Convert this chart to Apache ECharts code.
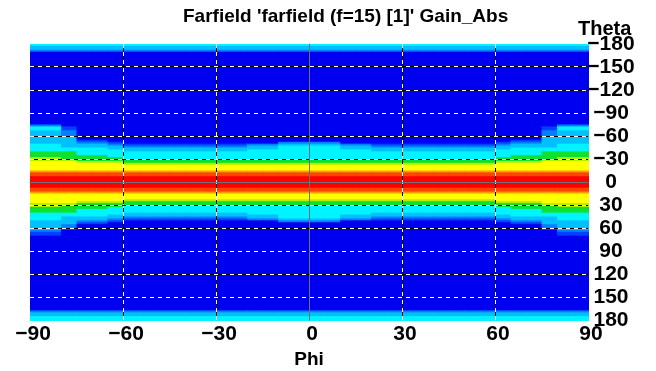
<!DOCTYPE html>
<html>
<head>
<meta charset="utf-8">
<script src="https://cdn.jsdelivr.net/npm/echarts@6/dist/echarts.min.js"></script>
<style>
html, body { margin: 0; padding: 0; background: #fff; }
#chart { width: 656px; height: 371px; }
</style>
</head>
<body>
<div id="chart"></div>
<script>
// phi cells (lower edge, deg)
var phiStart = [-90, -85, -80, -75, -70, -65, -60, -55, -50, -45, -40, -35, -30, -25, -20, -15, -10, -5,
	0, 5, 10, 15, 20, 25, 30, 35, 40, 45, 50, 55, 60, 65, 70, 75, 80, 85]
var phiStep = 5
var thetaStep = 2.5

// gain level per cell, rows from theta -180 downward
// [how many rows, level per phi cell]  (a = 10)
var thetaRows = [
	[1, "444444 44444444 44 4444 44 44444444 444444"],
	[2, "333333 33333333 33 3333 33 33333333 333333"],
	[1, "222222 22222222 22 2222 22 22222222 222222"],
	[38, "000000 00000000 00 0000 00 00000000 000000"],
	[1, "220000 00000000 00 0000 00 00000000 000022"],
	[2, "441000 00000000 00 0000 00 00000000 000144"],
	[3, "332000 00000000 00 0000 00 00000000 000233"],
	[2, "333000 00000000 00 0000 00 00000000 000333"],
	[1, "333110 00000000 00 0000 00 00000000 011333"],
	[1, "333221 00000000 00 2222 00 00000000 122333"],
	[1, "443332 11111111 22 3333 22 11111111 233344"],
	[1, "443333 22222222 33 4444 33 22222222 333344"],
	[1, "444443 33333333 33 4444 33 33333333 344444"],
	[1, "444444 33333333 44 4444 44 33333333 444444"],
	[2, "555444 44444444 44 4444 44 44444444 444555"],
	[1, "555554 44444444 44 4444 44 44444444 455555"],
	[1, "665555 44444444 44 4444 44 44444444 555566"],
	[1, "666555 55555555 55 5555 55 55555555 555666"],
	[1, "777666 55555555 55 5555 55 55555555 666777"],
	[1, "777777 66666666 66 6666 66 66666666 777777"],
	[3, "777777 77777777 77 7777 77 77777777 777777"],
	[1, "888888 88888888 88 8888 88 88888888 888888"],
	[2, "999999 99999999 99 9999 99 99999999 999999"],
	[6, "aaaaaa aaaaaaaa aa aaaa aa aaaaaaaa aaaaaa"],
	[2, "999999 99999999 99 9999 99 99999999 999999"],
	[1, "888888 88888888 88 8888 88 88888888 888888"],
	[3, "777777 77777777 77 7777 77 77777777 777777"],
	[1, "777777 66666666 66 6666 66 66666666 777777"],
	[1, "777666 55555555 55 5555 55 55555555 666777"],
	[1, "666555 55555555 55 5555 55 55555555 555666"],
	[1, "665555 44444444 44 4444 44 44444444 555566"],
	[1, "555554 44444444 44 4444 44 44444444 455555"],
	[2, "555444 44444444 44 4444 44 44444444 444555"],
	[1, "444444 33333333 44 4444 44 33333333 444444"],
	[1, "444443 33333333 33 4444 33 33333333 344444"],
	[1, "443333 22222222 33 4444 33 22222222 333344"],
	[1, "443332 11111111 22 3333 22 11111111 233344"],
	[1, "333221 00000000 00 2222 00 00000000 122333"],
	[1, "333110 00000000 00 0000 00 00000000 011333"],
	[2, "332000 00000000 00 0000 00 00000000 000233"],
	[1, "331000 00000000 00 0000 00 00000000 000133"],
	[1, "220000 00000000 00 0000 00 00000000 000022"],
	[2, "110000 00000000 00 0000 00 00000000 000011"],
	[39, "000000 00000000 00 0000 00 00000000 000000"],
	[1, "222222 22222222 22 2222 22 22222222 222222"],
	[2, "333333 33333333 33 3333 33 33333333 333333"],
	[2, "444444 44444444 44 4444 44 44444444 444444"]
]

var levelColors = ["#0000f0", "#0040ff", "#0080ff", "#00c0ff", "#00f4ff", "#10e030",
	"#b0f000", "#ffff00", "#ff9c00", "#ff4400", "#ff0000"]

var phiTicks = [-90, -60, -30, 0, 30, 60, 90]
var thetaTicks = [-180, -150, -120, -90, -60, -30, 0, 30, 60, 90, 120, 150, 180]

var FONT = '"Liberation Sans", Arial, sans-serif'
var PHI_MIN = phiTicks[0], PHI_MAX = phiTicks[phiTicks.length - 1]
var TH_MIN = thetaTicks[0], TH_MAX = thetaTicks[thetaTicks.length - 1]

// cells
var cells = []
var theta = TH_MIN
for (var r = 0; r < thetaRows.length; r++) {
	var row = thetaRows[r][1].replace(/ /g, '')
	for (var k = 0; k < thetaRows[r][0]; k++) {
		for (var j = 0; j < phiStart.length; j++) {
			cells.push([phiStart[j], theta, phiStart[j] + phiStep, theta + thetaStep, parseInt(row[j], 16)])
		}
		theta += thetaStep
	}
}

// inner grid lines (black/white dashed)
var vLines = phiTicks.slice(1, -1).map(function (v) { return [v, 0] })
var hLines = thetaTicks.slice(1, -1).map(function (v) { return [0, v] })

function minusSign(v) {
	return String(v).replace('-', '\u2212')
}

function renderCell(params, api) {
	var p0 = api.coord([api.value(0), api.value(1)])
	var p1 = api.coord([api.value(2), api.value(3)])
	return {
		type: 'rect',
		shape: {
			x: Math.min(p0[0], p1[0]),
			y: Math.min(p0[1], p1[1]),
			width: Math.abs(p1[0] - p0[0]) + 1,
			height: Math.abs(p1[1] - p0[1]) + 1
		},
		style: { fill: levelColors[api.value(4)] }
	}
}

function dashPair(x1, y1, x2, y2) {
	return {
		type: 'group',
		children: [{
			type: 'line', shape: { x1: x1, y1: y1, x2: x2, y2: y2 },
			style: { stroke: '#fff', lineWidth: 1, lineDash: [4, 4] }
		}, {
			type: 'line', shape: { x1: x1, y1: y1, x2: x2, y2: y2 },
			style: { stroke: '#000', lineWidth: 1, lineDash: [4, 4], lineDashOffset: 4 }
		}]
	}
}

function renderVLine(params, api) {
	var a = api.coord([api.value(0), TH_MIN])
	var b = api.coord([api.value(0), TH_MAX])
	var x = Math.floor(a[0]) + 0.5
	return dashPair(x, a[1], x, b[1])
}

function renderHLine(params, api) {
	var a = api.coord([PHI_MIN, api.value(1)])
	var b = api.coord([PHI_MAX, api.value(1)])
	var y = Math.floor(a[1]) + 0.5
	return dashPair(a[0], y, b[0], y)
}

var labelStyle = { color: '#000', fontFamily: FONT, fontWeight: 'bold', fontSize: 19 }
var tickStyle = Object.assign({}, labelStyle, { fontSize: 21 })

var option = {
	animation: false,
	backgroundColor: '#fff',
	title: [{
		text: "Farfield 'farfield (f=15) [1]' Gain_Abs",
		left: 178, top: 2,
		textStyle: labelStyle
	}, {
		text: 'Theta',
		left: 573, top: 14,
		textStyle: Object.assign({}, labelStyle, { fontSize: 20 })
	}],
	grid: { left: 30, right: 68, top: 44, bottom: 51, containLabel: false, outerBoundsMode: 'none' },
	xAxis: [{
		type: 'value', min: PHI_MIN, max: PHI_MAX, interval: 30,
		position: 'bottom',
		axisLine: { show: false }, axisTick: { show: false },
		axisLabel: Object.assign({ margin: 4, formatter: minusSign, padding: [0, 0, 0, 6] }, tickStyle),
		splitLine: { show: false },
		name: 'Phi', nameLocation: 'middle', nameGap: 23,
		nameTextStyle: labelStyle
	}, {
		type: 'value', min: PHI_MIN, max: PHI_MAX, interval: 30,
		position: 'top', z: 5,
		axisLine: { show: true, lineStyle: { color: '#707070', width: 1 } },
		axisTick: { show: false }, axisLabel: { show: false }, splitLine: { show: false }
	}],
	yAxis: [{
		type: 'value', inverse: true, min: TH_MIN, max: TH_MAX, interval: 30,
		position: 'right',
		axisLine: { show: false }, axisTick: { show: false },
		axisLabel: Object.assign({ margin: 23, align: 'center', formatter: minusSign }, tickStyle),
		splitLine: { show: false }
	}, {
		type: 'value', inverse: true, min: TH_MIN, max: TH_MAX, interval: 30,
		position: 'left', z: 5,
		axisLine: { show: true, lineStyle: { color: '#707070', width: 1 } },
		axisTick: { show: false }, axisLabel: { show: false }, splitLine: { show: false }
	}],
	series: [{
		type: 'custom',
		z: 1,
		clip: true,
		renderItem: renderCell,
		encode: { x: [0, 2], y: [1, 3] },
		data: cells
	}, {
		type: 'custom',
		z: 3,
		renderItem: renderVLine,
		encode: { x: 0, y: 1 },
		data: vLines
	}, {
		type: 'custom',
		z: 3,
		renderItem: renderHLine,
		encode: { x: 0, y: 1 },
		data: hLines
	}]
}

var chart = echarts.init(document.getElementById('chart'))
chart.setOption(option)
</script>
</body>
</html>
